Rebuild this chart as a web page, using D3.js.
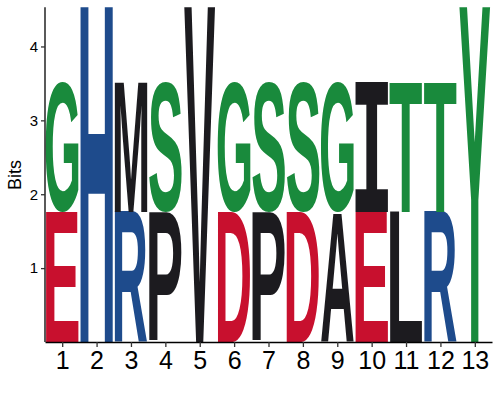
<!DOCTYPE html>
<html><head><meta charset="utf-8">
<script src="https://cdn.jsdelivr.net/npm/d3@7"></script>
<style>body{margin:0;background:#fff}svg{display:block}</style>
</head><body>
<script>
const positions = [1,2,3,4,5,6,7,8,9,10,11,12,13];
const lowerLetters = ["E","H","R","P","V","D","P","D","A","E","L","R","Y"];
const lowerBits    = [1.76,4.76,1.76,1.76,4.8,1.76,1.76,1.76,1.76,1.76,1.76,1.76,4.7];
const upperLetters = ["G","","M","S","","G","S","S","G","I","T","T",""];
const upperBits    = [1.77,0,1.77,1.77,0,1.77,1.77,1.77,1.77,1.77,1.77,1.77,0];
const yTicks = [1,2,3,4];
const colors = {G:"#198a3c",S:"#198a3c",T:"#198a3c",Y:"#198a3c",
  H:"#1e4b8c",R:"#1e4b8c",K:"#1e4b8c",
  D:"#c8102e",E:"#c8102e",
  A:"#1c1b1f",V:"#1c1b1f",L:"#1c1b1f",I:"#1c1b1f",P:"#1c1b1f",M:"#1c1b1f",W:"#1c1b1f",F:"#1c1b1f"};

const W=500,H=400;
const svg=d3.select("body").append("svg").attr("width",W).attr("height",H);
const x=d3.scaleLinear().domain([0.5,13.5]).range([45,492]);
const y=d3.scaleLinear().domain([0,4.53]).range([342,7.3]);

svg.append("defs").append("clipPath").attr("id","clip")
  .append("rect").attr("x",x(0.5)).attr("y",y(4.53)).attr("width",x(13.5)-x(0.5)).attr("height",y(0)-y(4.53));

const ctx=document.createElement("canvas").getContext("2d");
const FONT="bold 100px 'Liberation Sans', Arial, sans-serif";
const FONT_I="bold 100px 'DejaVu Sans Mono', monospace";
const fontFor=ch=>ch==="I"?FONT_I:FONT;
function metrics(ch){ctx.font=fontFor(ch);const m=ctx.measureText(ch);return {l:m.actualBoundingBoxLeft,r:m.actualBoundingBoxRight,a:m.actualBoundingBoxAscent,d:m.actualBoundingBoxDescent};}

const stacks=[];
positions.forEach((p,i)=>{
  let base=0;
  [[lowerLetters[i],lowerBits[i]],[upperLetters[i],upperBits[i]]].forEach(([ch,b])=>{
    if(ch&&b>0){stacks.push({p,ch,y0:base,y1:base+b});}
    base+=b;
  });
});
const step=x(2)-x(1);
const lw=step*0.955;
const g=svg.append("g").attr("clip-path","url(#clip)");
g.selectAll("text").data(stacks).enter().append("text")
  .text(d=>d.ch)
  .attr("fill",d=>colors[d.ch])
  .style("font",d=>fontFor(d.ch))
  .attr("transform",d=>{
    const m=metrics(d.ch);
    const gw=m.l+m.r, gh=m.a+m.d;
    const x0=x(d.p)-lw/2, yTop=y(d.y1), h=y(d.y0)-y(d.y1);
    const sx=lw/gw, sy=h/gh;
    return `translate(${x0},${yTop}) scale(${sx},${sy}) translate(${m.l},${m.a})`;
  });

// axes
const xa=svg.append("g").attr("transform",`translate(0,${y(0)})`)
  .call(d3.axisBottom(x).tickValues(positions).tickFormat(d3.format("d")).tickSize(5).tickSizeOuter(0));
xa.select(".domain").attr("stroke","#000").attr("stroke-width",1.3);
xa.selectAll(".tick line").attr("stroke","#333").attr("stroke-width",1.3);
xa.selectAll(".tick text").attr("font-family","'Liberation Sans', Arial, sans-serif").attr("font-size",25).attr("fill","#000").attr("dy","0.72em").attr("y",9);

const ya=svg.append("g").attr("transform",`translate(${x(0.5)},0)`)
  .call(d3.axisLeft(y).tickValues(yTicks).tickFormat(d3.format("d")).tickSize(4).tickSizeOuter(0));
ya.select(".domain").attr("stroke","#000").attr("stroke-width",1.3).attr("d",`M0,${y(4.53)}V${y(0)}`);
ya.selectAll(".tick line").attr("stroke","#333").attr("stroke-width",1.3);
ya.selectAll(".tick text").attr("font-family","'Liberation Sans', Arial, sans-serif").attr("font-size",15).attr("fill","#000").attr("x",-7);

svg.append("text").text("Bits").attr("transform",`translate(21,175) rotate(-90)`)
  .attr("text-anchor","middle").attr("font-family","'Liberation Sans', Arial, sans-serif").attr("font-size",18).attr("fill","#000");
</script>
</body></html>
